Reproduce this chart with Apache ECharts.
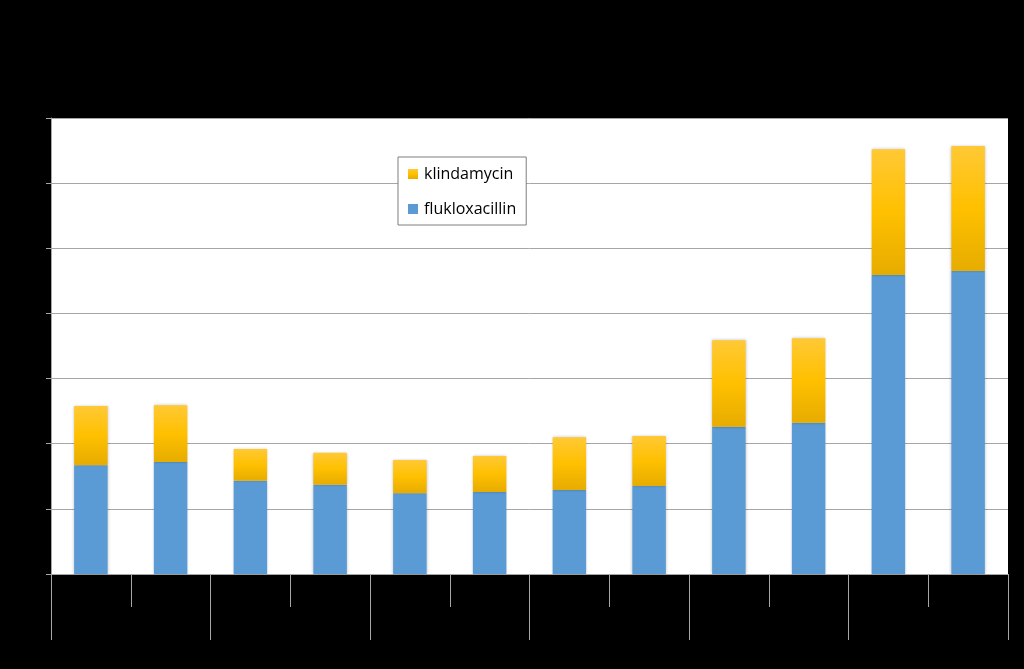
<!DOCTYPE html>
<html>
<head>
<meta charset="utf-8">
<script src="https://cdn.jsdelivr.net/npm/echarts@6/dist/echarts.min.js"></script>
<style>
html,body{margin:0;padding:0;background:#000;}
#c{width:1024px;height:669px;}
</style>
</head>
<body>
<div id="c"></div>
<script>
const categories = ['1. halvår','2. halvår','1. halvår','2. halvår','1. halvår','2. halvår','1. halvår','2. halvår','1. halvår','2. halvår','1. halvår','2. halvår'];
const groups = ['2010','2011','2012','2013','2014','2015'];
const flukloxacillin = [1.67,1.72,1.43,1.37,1.24,1.26,1.29,1.35,2.26,2.32,4.59,4.65];
const klindamycin = [0.91,0.87,0.49,0.49,0.51,0.55,0.81,0.77,1.33,1.30,1.93,1.92];
const yTicks = [0,1,2,3,4,5,6,7];

const chart = echarts.init(document.getElementById('c'));
const gridGray = '#A6A6A6';
chart.setOption({
  backgroundColor: '#000000',
  animation: false,
  textStyle: {fontFamily: 'Open Sans'},
  grid: {left: 51, right: 16, top: 118, bottom: 95, show: true, backgroundColor: '#ffffff', borderWidth: 0},
  legend: {
    data: ['klindamycin','flukloxacillin'],
    orient: 'vertical',
    left: 398, top: 157,
    backgroundColor: '#ffffff',
    borderColor: '#7f7f7f', borderWidth: 1,
    padding: [7, 10, 6, 10],
    itemWidth: 10, itemHeight: 10, itemGap: 15,
    icon: 'rect',
    textStyle: {fontSize: 16, color: '#000', lineHeight: 20, fontFamily: 'Open Sans', padding: [0, 0, 0, 1]}
  },
  xAxis: [
    {
      type: 'category', data: categories, position: 'bottom',
      axisLine: {show: true, lineStyle: {color: gridGray}},
      axisTick: {show: true, length: 33, interval: 0, lineStyle: {color: gridGray}},
      axisLabel: {color: '#000', fontSize: 12, interval: 0}
    },
    {
      type: 'category', data: groups, position: 'bottom',
      axisLine: {show: false},
      axisTick: {show: true, length: 66, interval: 0, lineStyle: {color: gridGray}},
      axisLabel: {color: '#000', fontSize: 12, margin: 45, interval: 0}
    }
  ],
  yAxis: {
    type: 'value', min: yTicks[0], max: yTicks[yTicks.length-1], interval: 1,
    axisLine: {show: true, lineStyle: {color: gridGray}},
    axisTick: {show: true, length: 5, lineStyle: {color: gridGray}},
    axisLabel: {color: '#000', fontSize: 12},
    splitLine: {show: true, lineStyle: {color: gridGray, width: 1}}
  },
  series: [
    {
      name: 'flukloxacillin', type: 'bar', stack: 'a', data: flukloxacillin,
      barWidth: '42%', xAxisIndex: 0,
      itemStyle: {color: '#5B9BD5', shadowColor: 'rgba(0,0,0,0.25)', shadowBlur: 3}
    },
    {
      name: 'klindamycin', type: 'bar', stack: 'a', data: klindamycin,
      barWidth: '42%', xAxisIndex: 0,
      itemStyle: {
        color: new echarts.graphic.LinearGradient(0,0,0,1,[
          {offset: 0, color: '#FFC935'},
          {offset: 0.5, color: '#FFC000'},
          {offset: 1, color: '#E6AC00'}
        ]),
        shadowColor: 'rgba(0,0,0,0.25)', shadowBlur: 3
      }
    }
  ]
});
</script>
</body>
</html>
